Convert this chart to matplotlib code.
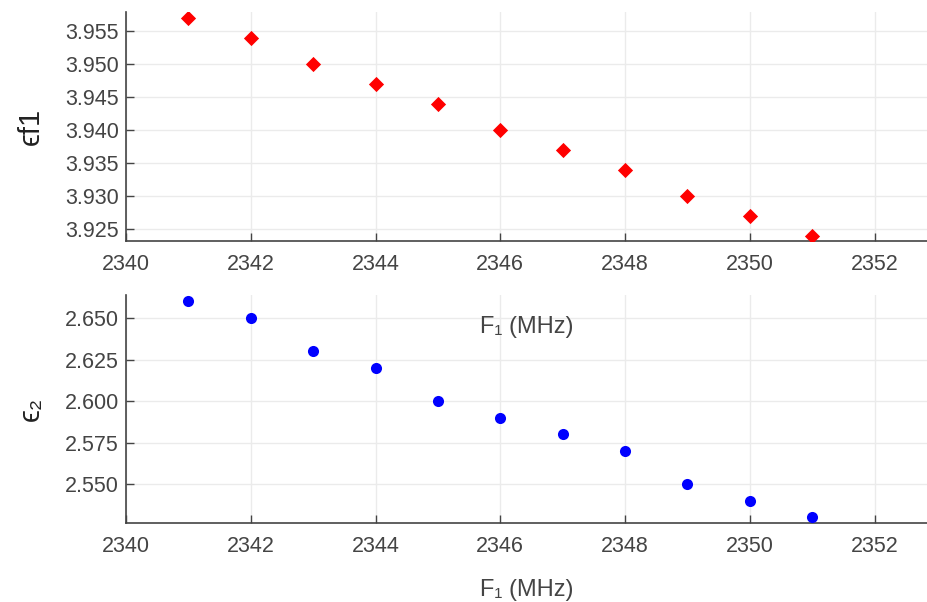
import matplotlib

matplotlib.use("Agg")

import matplotlib.pyplot as plt  # noqa: E402

freq = [2341, 2342, 2343, 2344, 2345, 2346, 2347, 2348, 2349, 2350, 2351]
eps_f1 = [3.957, 3.954, 3.950, 3.947, 3.944, 3.940, 3.937, 3.934, 3.930, 3.927, 3.924]
eps_2 = [2.66, 2.65, 2.63, 2.62, 2.60, 2.59, 2.58, 2.57, 2.55, 2.54, 2.53]

x_ticks = [2340, 2342, 2344, 2346, 2348, 2350, 2352]
y1_ticks = [3.925, 3.930, 3.935, 3.940, 3.945, 3.950, 3.955]
y2_ticks = [2.550, 2.575, 2.600, 2.625, 2.650]

plt.rcParams["font.family"] = ["Liberation Sans", "DejaVu Sans"]

fig = plt.figure(figsize=(9.27, 6.02), dpi=100)
ax1 = fig.add_axes([126 / 927, 1 - 241 / 602, 801 / 927, 229 / 602])
ax2 = fig.add_axes([126 / 927, 1 - 523 / 602, 801 / 927, 228 / 602])
# the top panel's x label sits over the lower panel, so draw it last
ax1.set_zorder(2)
ax1.patch.set_alpha(0)

ax1.scatter(freq, eps_f1, marker="D", s=60, color="red", zorder=3, linewidths=0)
ax2.scatter(freq, eps_2, marker="o", s=64, color="blue", zorder=3, linewidths=0)

ax1.set_ylim(3.9232, 3.9579)
ax2.set_ylim(2.5265, 2.6639)
ax1.set_yticks(y1_ticks)
ax1.set_yticklabels([f"{v:.3f}" for v in y1_ticks])
ax2.set_yticks(y2_ticks)
ax2.set_yticklabels([f"{v:.3f}" for v in y2_ticks])

for ax in (ax1, ax2):
    ax.set_xlim(2340, 2352.84)
    ax.set_xticks(x_ticks)
    ax.grid(True, color="#ebebeb", linewidth=1)
    ax.set_axisbelow(True)
    ax.spines["top"].set_visible(False)
    ax.spines["right"].set_visible(False)
    ax.spines["left"].set_color("#444444")
    ax.spines["bottom"].set_color("#444444")
    ax.spines["left"].set_linewidth(1.2)
    ax.spines["bottom"].set_linewidth(1.2)
    ax.tick_params(axis="both", direction="in", length=6, width=1,
                   color="#444444", labelcolor="#444444", labelsize=15.5)
    ax.tick_params(axis="x", pad=9)
    ax.tick_params(axis="y", pad=5)
    ax.set_xlabel("F₁ (MHz)", fontsize=17, color="#444444")

ax1.xaxis.set_label_coords(0.5, -0.3755)
ax1.xaxis.label.set_verticalalignment("center")
ax2.xaxis.set_label_coords(0.5, -0.294)
ax2.xaxis.label.set_verticalalignment("center")

ax1.set_ylabel("ϵf1", fontsize=21, color="#222222")
ax2.set_ylabel("ϵ₂", fontsize=21, color="#222222")
ax1.yaxis.set_label_coords(-0.101, 0.5)
ax2.yaxis.set_label_coords(-0.101, 0.5)

plt.savefig("out.png", dpi=100)
